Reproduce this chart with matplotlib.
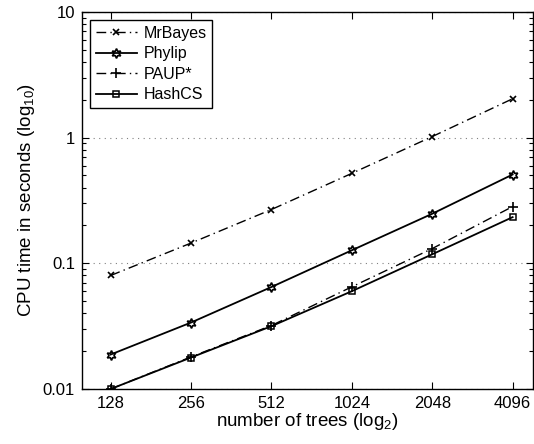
import numpy as np
import matplotlib
matplotlib.use("Agg")
import matplotlib.pyplot as plt
from matplotlib.ticker import FixedLocator, LogLocator, NullFormatter

plt.rcParams["font.family"] = ["Liberation Sans", "DejaVu Sans"]
plt.rcParams["mathtext.default"] = "regular"

# data
trees = [128, 256, 512, 1024, 2048, 4096]
mrbayes = [0.080, 0.145, 0.268, 0.52, 1.02, 2.04]
phylip = [0.0188, 0.0338, 0.0648, 0.127, 0.248, 0.509]
paup = [0.0100, 0.0180, 0.0320, 0.065, 0.131, 0.283]
hashcs = [0.0100, 0.0178, 0.0316, 0.060, 0.118, 0.233]

dashdot = (0, (7, 3, 1, 3))

fig = plt.figure(figsize=(5.34, 4.44), dpi=100)
ax = fig.add_axes([0.1536, 0.1239, 0.8444, 0.8491])

ax.plot(trees, mrbayes, color="black", lw=1.0, ls=dashdot, marker="x",
        ms=4.5, mew=1.2, label="MrBayes")
ax.plot(trees, phylip, color="black", lw=1.3, ls="-", marker=(6, 1, 0),
        ms=7, mfc="none", mew=1.2, label="Phylip")
ax.plot(trees, paup, color="black", lw=1.0, ls=dashdot, marker="+",
        ms=7, mew=1.2, label="PAUP*")
ax.plot(trees, hashcs, color="black", lw=1.3, ls="-", marker="s",
        ms=5, mfc="none", mew=1.1, label="HashCS")

ax.set_xscale("log", base=2)
ax.set_yscale("log")
ax.set_xlim(100, 4880)
ax.set_ylim(0.01, 10)

ax.xaxis.set_major_locator(FixedLocator(trees))
ax.set_xticklabels([str(t) for t in trees])
ax.xaxis.set_minor_locator(FixedLocator([]))
ax.set_yticks([0.01, 0.1, 1, 10])
ax.set_yticklabels(["0.01", "0.1", "1", "10"])
ax.yaxis.set_minor_locator(LogLocator(base=10, subs=np.arange(2, 10)))
ax.yaxis.set_minor_formatter(NullFormatter())

ax.tick_params(which="both", direction="in", top=True, right=True,
               labelsize=12, width=0.8)
ax.tick_params(which="major", length=5, pad=5)
ax.tick_params(which="minor", length=3)
for s in ax.spines.values():
    s.set_linewidth(1.0)

ax.yaxis.grid(True, which="major", ls=(0, (1, 4)), color="gray", lw=0.8)

ax.set_xlabel("number of trees (log$_2$)", fontsize=13.5, labelpad=0)
ax.set_ylabel("CPU time in seconds (log$_{10}$)", fontsize=13.5, labelpad=4)

leg = ax.legend(loc="upper left", fontsize=11.5, fancybox=False,
                edgecolor="black", framealpha=1, borderaxespad=0.5,
                handlelength=2.6, handletextpad=0.4, labelspacing=0.35,
                borderpad=0.35)
leg.get_frame().set_linewidth(1.0)

fig.savefig("out.png", dpi=100)
